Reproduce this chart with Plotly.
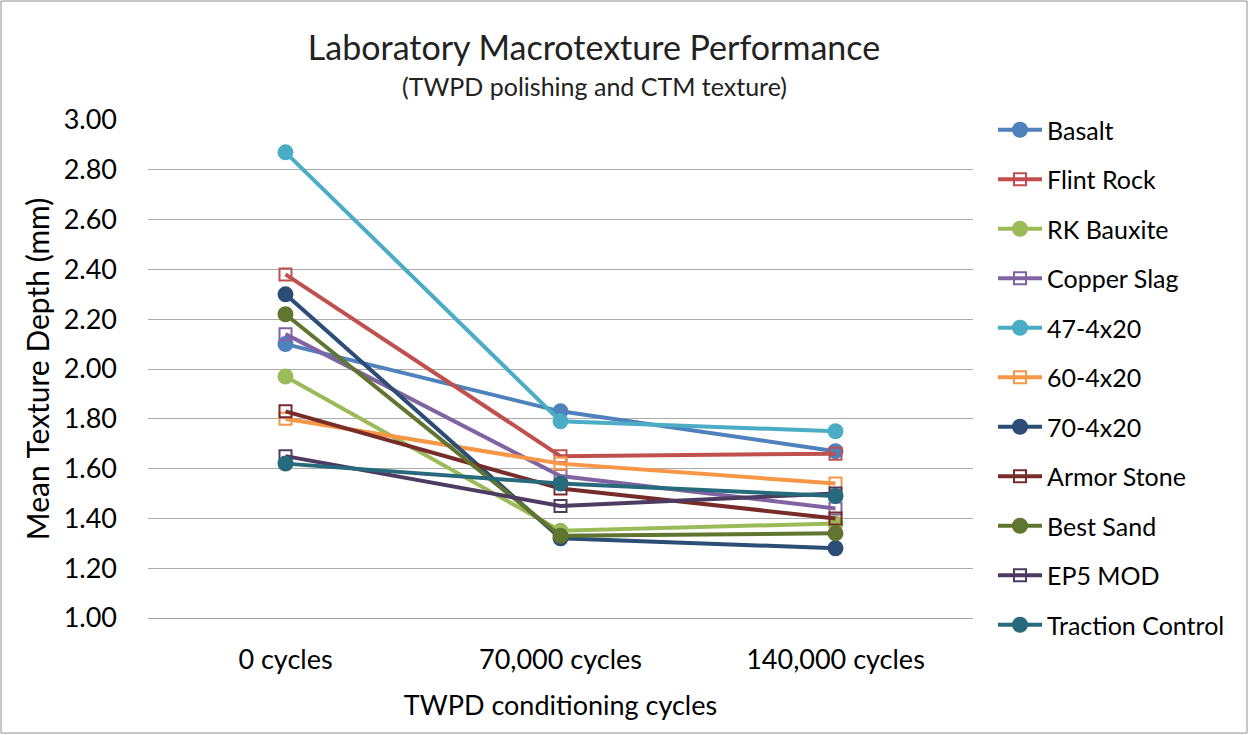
import plotly.graph_objects as go

categories = ["0 cycles", "70,000 cycles", "140,000 cycles"]
series_names = ["Basalt", "Flint Rock", "RK Bauxite", "Copper Slag", "47-4x20", "60-4x20",
                "70-4x20", "Armor Stone", "Best Sand", "EP5 MOD", "Traction Control"]
basalt = [2.10, 1.83, 1.67]
flint_rock = [2.38, 1.65, 1.66]
rk_bauxite = [1.97, 1.35, 1.38]
copper_slag = [2.14, 1.57, 1.44]
a47_4x20 = [2.87, 1.79, 1.75]
a60_4x20 = [1.80, 1.62, 1.54]
a70_4x20 = [2.30, 1.32, 1.28]
armor_stone = [1.83, 1.52, 1.40]
best_sand = [2.22, 1.33, 1.34]
ep5_mod = [1.65, 1.45, 1.50]
traction_control = [1.62, 1.54, 1.49]
values = [basalt, flint_rock, rk_bauxite, copper_slag, a47_4x20, a60_4x20,
          a70_4x20, armor_stone, best_sand, ep5_mod, traction_control]
colors = ["#4F81BD", "#C0504D", "#9BBB59", "#8064A2", "#4BACC6", "#F79646",
          "#2C4D75", "#772C2A", "#5F7530", "#4D3B62", "#276A7C"]
markers = ["circle", "square-open", "circle", "square-open", "circle", "square-open",
           "circle", "square-open", "circle", "square-open", "circle"]

FONT = "Lato, 'Open Sans', sans-serif"
W, H = 1249, 735
L, R, T, B = 148, 276, 120, 117
pw = W - L - R
ph = H - T - B

fig = go.Figure()
for i, (name, vals) in enumerate(zip(series_names, values)):
    fig.add_trace(go.Scatter(
        x=categories, y=vals, name=name, mode="lines+markers",
        line=dict(color=colors[i], width=4),
        marker=dict(symbol=markers[i], size=14 if markers[i] == "circle" else 12,
                    color=colors[i], line=dict(color=colors[i], width=2)),
        legendgroup=name,
    ))

# chart border
fig.add_shape(type="rect", xref="paper", yref="paper",
              x0=(1 - L) / pw, x1=(W - 2 - L) / pw,
              y0=-(H - 2 - T - ph) / ph, y1=1 + (T - 1) / ph,
              line=dict(color="#8C8C8C", width=1), layer="below")

fig.add_annotation(
    text="(TWPD polishing and CTM texture)", xref="paper", yref="paper",
    x=(594 - L) / pw, y=1 + (T - 86) / ph, xanchor="center", yanchor="middle",
    showarrow=False, font=dict(size=25, family=FONT, color="#222222"),
)

fig.update_layout(
    width=W, height=H,
    margin=dict(l=L, r=R, t=T, b=B, autoexpand=False),
    paper_bgcolor="white", plot_bgcolor="white",
    font=dict(family=FONT, color="#000000"),
    title=dict(
        text="Laboratory Macrotexture Performance",
        x=594 / W, xanchor="center", xref="container", y=1 - 48 / H, yanchor="middle",
        font=dict(size=34, family=FONT, color="#222222"),
    ),
    xaxis=dict(
        type="category", range=[-0.5, 2.5],
        tickfont=dict(size=27, family=FONT), showgrid=False,
        showline=True, linecolor="#A6A6A6", linewidth=1, ticks="",
        ticklabelstandoff=18,
        title=dict(text="TWPD conditioning cycles", font=dict(size=27, family=FONT), standoff=21),
    ),
    yaxis=dict(
        range=[1.0, 3.0], dtick=0.2, tick0=1.0, tickformat=".2f",
        tickfont=dict(size=27, family=FONT), showgrid=True, gridcolor="#ABABAB", gridwidth=1,
        zeroline=False, ticks="", showline=False, ticklabelstandoff=30,
        title=dict(text="Mean Texture Depth (mm)", font=dict(size=30, family=FONT), standoff=5),
    ),
    legend=dict(
        x=(993 - L) / pw, xanchor="left",
        y=1 + 13 / ph, yanchor="top",
        font=dict(size=25, family=FONT), tracegroupgap=14,
        bgcolor="rgba(0,0,0,0)", itemwidth=44, maxheight=1.0,
    ),
    showlegend=True,
)

fig.write_html("out.html", config={"displayModeBar": False},
               post_script="document.body.style.margin='0px';")
